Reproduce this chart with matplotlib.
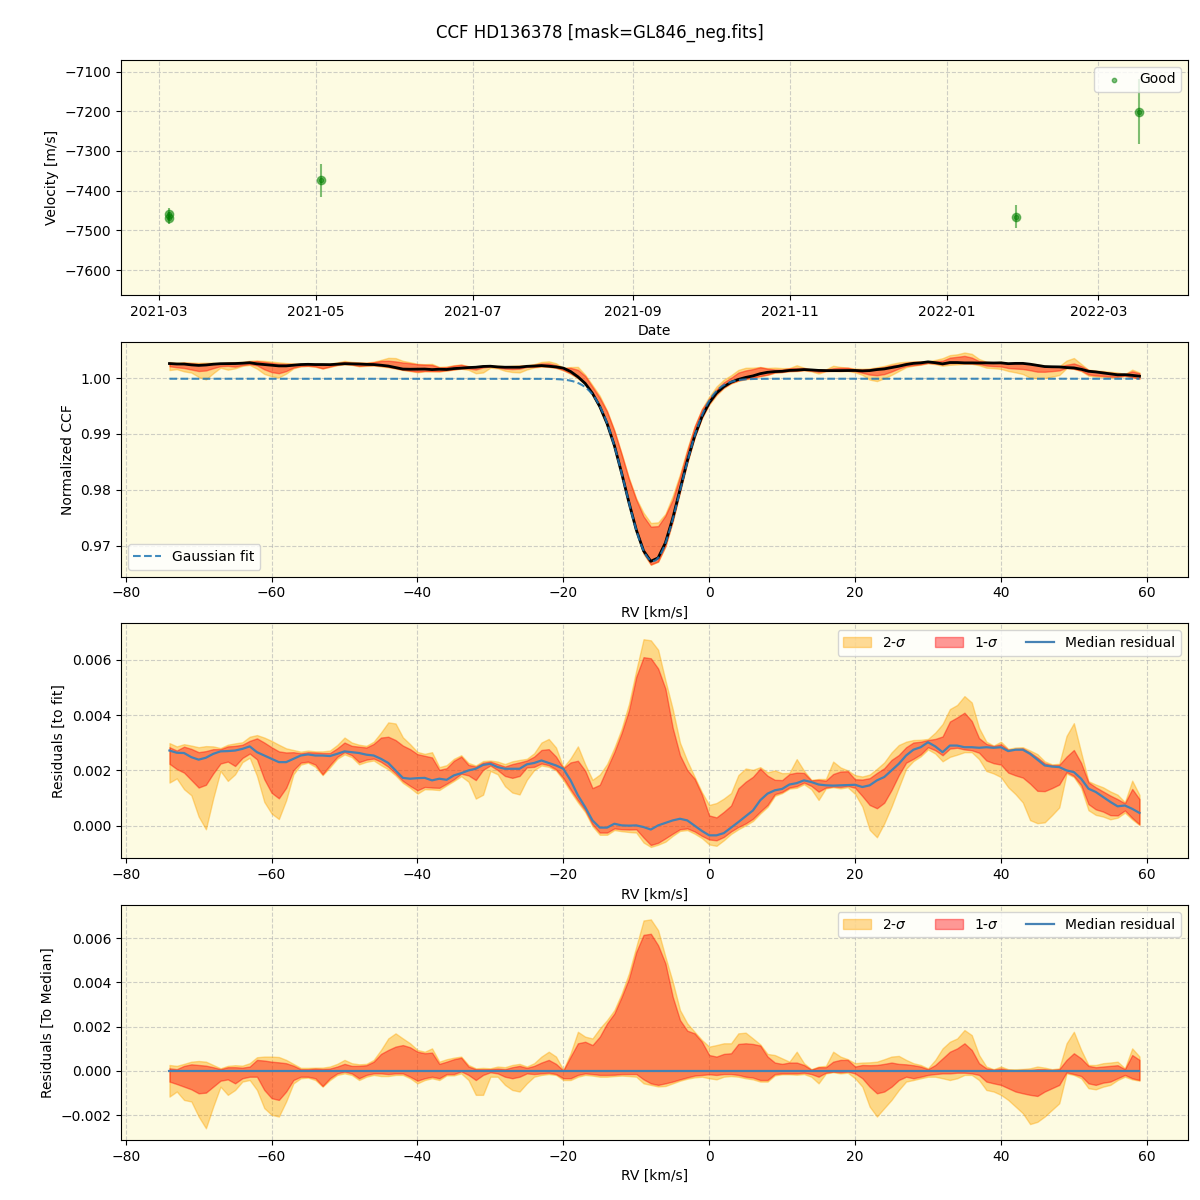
import numpy as np
import pandas as pd
import matplotlib
matplotlib.use('Agg')
import matplotlib.pyplot as plt

# --- dados ---
TITULO = "CCF HD136378 [mask=GL846_neg.fits]"

# painel 1: velocidades
datas = pd.to_datetime(['2021-03-05', '2021-03-05', '2021-05-03', '2022-01-28', '2022-03-17'])
velocidades = [-7458, -7469, -7374, -7465, -7201]
erros_vel = [15, 15, 42, 28, 81]

# grade de RV [km/s]
rv = np.arange(-74, 60)

# ajuste gaussiano (parametros do fit)
gauss_cont = 0.99988
gauss_prof = 0.03262
gauss_centro = -7.7
gauss_sigma = 3.75

# residuo mediano em relacao ao fit (x1e-3)
res_mediano = [
    2.72, 2.64, 2.63, 2.48, 2.39, 2.46, 2.60, 2.69, 2.70, 2.72,
    2.78, 2.87, 2.66, 2.54, 2.42, 2.30, 2.30, 2.42, 2.54, 2.58,
    2.54, 2.54, 2.52, 2.60, 2.69, 2.66, 2.63, 2.57, 2.54, 2.42,
    2.27, 2.00, 1.73, 1.70, 1.72, 1.73, 1.64, 1.70, 1.66, 1.82,
    1.90, 2.00, 2.06, 2.20, 2.24, 2.12, 2.06, 2.06, 2.06, 2.22,
    2.27, 2.36, 2.27, 2.18, 2.06, 1.64, 1.10, 0.67, 0.19, -0.07,
    -0.07, 0.07, 0.01, 0.00, 0.01, -0.05, -0.14, 0.01, 0.10, 0.19,
    0.25, 0.19, 0.00, -0.19, -0.35, -0.35, -0.27, -0.07, 0.13, 0.34,
    0.55, 0.92, 1.16, 1.28, 1.33, 1.49, 1.54, 1.64, 1.58, 1.49,
    1.46, 1.45, 1.46, 1.47, 1.48, 1.40, 1.46, 1.64, 1.76, 2.00,
    2.24, 2.54, 2.75, 2.84, 3.02, 2.87, 2.66, 2.90, 2.90, 2.84,
    2.84, 2.82, 2.84, 2.82, 2.84, 2.70, 2.75, 2.75, 2.60, 2.39,
    2.18, 2.14, 2.12, 2.00, 1.94, 1.70, 1.34, 1.22, 1.04, 0.86,
    0.70, 0.73, 0.61, 0.46,
]

# faixas em relacao a mediana (x1e-3): 2-sigma sup, 1-sigma sup, 1-sigma inf, 2-sigma inf
sup2 = [
    0.27, 0.23, 0.32, 0.42, 0.45, 0.42, 0.27, 0.12, 0.23, 0.26,
    0.24, 0.35, 0.62, 0.65, 0.65, 0.63, 0.50, 0.32, 0.14, 0.14,
    0.15, 0.15, 0.20, 0.32, 0.50, 0.35, 0.30, 0.32, 0.50, 0.95,
    1.47, 1.70, 1.47, 1.25, 0.95, 0.87, 1.02, 0.42, 0.53, 0.60,
    0.65, 0.27, 0.12, 0.14, 0.12, 0.20, 0.17, 0.27, 0.32, 0.20,
    0.35, 0.65, 0.87, 0.65, 0.05, 0.80, 1.77, 1.55, 1.47, 1.92,
    2.30, 2.75, 3.50, 4.41, 5.61, 6.80, 6.85, 6.36, 5.16, 4.03,
    2.75, 2.15, 1.77, 1.40, 1.10, 1.17, 1.25, 1.25, 1.70, 1.73,
    1.47, 1.20, 0.77, 0.72, 0.57, 0.42, 0.87, 0.35, 0.08, 0.20,
    0.23, 0.87, 0.65, 0.53, 0.35, 0.38, 0.39, 0.42, 0.53, 0.65,
    0.68, 0.50, 0.35, 0.27, 0.12, 0.50, 1.02, 1.32, 1.47, 1.85,
    1.62, 0.72, 0.20, 0.08, 0.20, 0.08, 0.08, 0.09, 0.12, 0.20,
    0.15, 0.08, 0.12, 1.25, 1.77, 0.95, 0.27, 0.27, 0.35, 0.38,
    0.42, 0.12, 1.02, 0.65,
]
sup1 = [
    0.12, 0.08, 0.23, 0.30, 0.27, 0.24, 0.17, 0.08, 0.17, 0.17,
    0.15, 0.20, 0.50, 0.47, 0.42, 0.39, 0.35, 0.24, 0.08, 0.08,
    0.11, 0.09, 0.11, 0.20, 0.32, 0.23, 0.23, 0.26, 0.42, 0.77,
    0.95, 1.10, 1.17, 1.07, 0.87, 0.80, 0.83, 0.32, 0.42, 0.53,
    0.60, 0.20, 0.08, 0.08, 0.08, 0.11, 0.08, 0.17, 0.23, 0.14,
    0.23, 0.38, 0.50, 0.32, 0.02, 0.65, 1.25, 1.32, 1.17, 1.55,
    2.15, 2.60, 3.35, 4.18, 5.38, 6.15, 6.20, 5.68, 4.86, 3.35,
    2.30, 1.82, 1.70, 1.32, 0.72, 0.65, 0.77, 0.80, 1.22, 1.25,
    1.22, 1.15, 0.65, 0.38, 0.32, 0.38, 0.38, 0.27, 0.06, 0.17,
    0.17, 0.42, 0.50, 0.50, 0.20, 0.27, 0.26, 0.27, 0.32, 0.38,
    0.32, 0.30, 0.26, 0.20, 0.08, 0.27, 0.57, 0.87, 1.02, 1.25,
    0.95, 0.35, 0.12, 0.06, 0.11, 0.05, 0.03, 0.05, 0.05, 0.08,
    0.08, 0.05, 0.08, 0.50, 0.80, 0.57, 0.23, 0.17, 0.20, 0.23,
    0.26, 0.08, 0.72, 0.50,
]
inf1 = [
    -0.48, -0.59, -0.71, -0.83, -1.01, -0.98, -0.71, -0.44, -0.38, -0.56,
    -0.33, -0.26, -0.26, -0.86, -1.23, -1.31, -0.93, -0.41, -0.26, -0.26,
    -0.33, -0.68, -0.33, -0.11, -0.03, -0.11, -0.33, -0.18, -0.11, -0.11,
    -0.14, -0.11, -0.11, -0.26, -0.44, -0.33, -0.26, -0.33, -0.14, -0.14,
    -0.02, -0.18, -0.41, -0.18, -0.06, -0.11, -0.26, -0.33, -0.26, -0.11,
    -0.14, -0.11, -0.08, -0.14, -0.33, -0.33, -0.18, -0.11, -0.14, -0.18,
    -0.18, -0.17, -0.14, -0.14, -0.14, -0.38, -0.56, -0.63, -0.56, -0.48,
    -0.38, -0.29, -0.21, -0.18, -0.15, -0.18, -0.14, -0.14, -0.18, -0.26,
    -0.30, -0.41, -0.41, -0.14, -0.11, -0.11, -0.11, -0.08, -0.14, -0.26,
    -0.08, -0.03, -0.06, -0.03, -0.11, -0.33, -0.71, -1.01, -0.93, -0.71,
    -0.41, -0.26, -0.33, -0.26, -0.18, -0.14, -0.11, -0.11, -0.08, -0.08,
    -0.11, -0.18, -0.48, -0.56, -0.63, -0.78, -0.93, -1.01, -1.08, -1.13,
    -0.93, -0.78, -0.63, -0.06, -0.14, -0.23, -0.56, -0.63, -0.53, -0.48,
    -0.33, -0.18, -0.33, -0.41,
]
inf2 = [
    -1.16, -0.93, -1.31, -1.38, -2.06, -2.59, -1.61, -0.71, -1.08, -0.86,
    -0.48, -0.41, -0.86, -1.68, -1.98, -2.06, -1.38, -0.56, -0.33, -0.30,
    -0.41, -0.71, -0.41, -0.18, -0.11, -0.18, -0.41, -0.26, -0.18, -0.23,
    -0.23, -0.18, -0.18, -0.33, -0.56, -0.41, -0.33, -0.41, -0.20, -0.20,
    -0.11, -0.41, -1.08, -1.08, -0.26, -0.26, -0.63, -0.86, -0.93, -0.56,
    -0.26, -0.18, -0.14, -0.18, -0.41, -0.41, -0.26, -0.18, -0.21, -0.26,
    -0.26, -0.23, -0.21, -0.23, -0.26, -0.56, -0.63, -0.70, -0.68, -0.56,
    -0.44, -0.35, -0.29, -0.26, -0.33, -0.38, -0.26, -0.23, -0.26, -0.33,
    -0.38, -0.48, -0.48, -0.20, -0.15, -0.15, -0.17, -0.14, -0.26, -0.56,
    -0.11, -0.06, -0.11, -0.08, -0.33, -0.71, -1.61, -2.06, -1.68, -1.31,
    -0.86, -0.48, -0.41, -0.33, -0.26, -0.26, -0.33, -0.41, -0.33, -0.18,
    -0.18, -0.41, -0.86, -0.93, -1.08, -1.31, -1.61, -1.91, -2.40, -2.30,
    -2.06, -1.76, -1.46, -0.11, -0.18, -0.33, -0.78, -0.83, -0.71, -0.63,
    -0.41, -0.26, -0.38, -0.44,
]

# --- estilo ---
COR_FUNDO = '#fdfbe2'
COR_2SIG = 'orange'
COR_1SIG = 'red'
COR_MEDIANA = '#4682b4'


def gauss(x):
    """Modelo do ajuste gaussiano"""
    return gauss_cont - gauss_prof * np.exp(-(x - gauss_centro) ** 2 / (2 * gauss_sigma ** 2))


def faixas(ax, base, mediana_linha):
    """Desenha as faixas 1 e 2 sigma e a linha mediana"""
    ax.fill_between(rv, base + np.array(inf2) * 1e-3, base + np.array(sup2) * 1e-3,
                    color=COR_2SIG, alpha=0.4, label='2-$\\sigma$')
    ax.fill_between(rv, base + np.array(inf1) * 1e-3, base + np.array(sup1) * 1e-3,
                    color=COR_1SIG, alpha=0.4, label='1-$\\sigma$')
    ax.plot(rv, mediana_linha, color=COR_MEDIANA, lw=1.6, label='Median residual')


def main():
    res = np.array(res_mediano) * 1e-3
    ccf_mediana = gauss(rv) + res
    rv_fino = np.linspace(rv[0], rv[-1], 600)

    fig, axs = plt.subplots(4, 1, figsize=(12, 12), dpi=100)
    fig.subplots_adjust(left=0.1008, right=0.99, top=0.95, bottom=0.05, hspace=0.2)
    fig.suptitle(TITULO, fontsize=12)

    for ax in axs:
        ax.set_facecolor(COR_FUNDO)
        ax.grid(True, linestyle='--', color='#b0b0b0', alpha=0.6)
        ax.set_axisbelow(True)

    # painel 1: velocidade x data
    ax = axs[0]
    ax.errorbar(datas, velocidades, yerr=erros_vel, fmt='o', color='green', alpha=0.5, ms=6)
    ax.scatter(datas, velocidades, s=10, color='green', alpha=0.5, label='Good', zorder=3)
    ax.set_ylim(-7662, -7071)
    ax.set_xlabel('Date')
    ax.set_ylabel('Velocity [m/s]')
    ax.legend(loc='upper right')

    # painel 2: CCF normalizada
    ax = axs[1]
    ax.fill_between(rv, ccf_mediana + np.array(inf2) * 1e-3, ccf_mediana + np.array(sup2) * 1e-3,
                    color=COR_2SIG, alpha=0.4)
    ax.fill_between(rv, ccf_mediana + np.array(inf1) * 1e-3, ccf_mediana + np.array(sup1) * 1e-3,
                    color=COR_1SIG, alpha=0.4)
    ax.plot(rv, ccf_mediana, color='black', lw=2)
    ax.plot(rv_fino, gauss(rv_fino), '--', color='tab:blue', alpha=0.85, lw=1.5, label='Gaussian fit')
    ax.set_ylim(0.9645, 1.0065)
    ax.set_xlabel('RV [km/s]')
    ax.set_ylabel('Normalized CCF')
    ax.legend(loc='lower left')

    # painel 3: residuos em relacao ao fit
    ax = axs[2]
    faixas(ax, res, res)
    ax.set_ylim(-0.00118, 0.00732)
    ax.set_xlabel('RV [km/s]')
    ax.set_ylabel('Residuals [to fit]')
    ax.legend(loc='upper right', ncol=3)

    # painel 4: residuos em relacao a mediana
    ax = axs[3]
    faixas(ax, np.zeros(len(rv)), np.zeros(len(rv)))
    ax.set_ylim(-0.00312, 0.00749)
    ax.set_xlabel('RV [km/s]')
    ax.set_ylabel('Residuals [To Median]')
    ax.legend(loc='upper right', ncol=3)

    for ax in axs[1:]:
        ax.set_xlim(-80.65, 65.65)

    plt.savefig('out.png', dpi=100)
    plt.close(fig)


if __name__ == "__main__":
    main()
